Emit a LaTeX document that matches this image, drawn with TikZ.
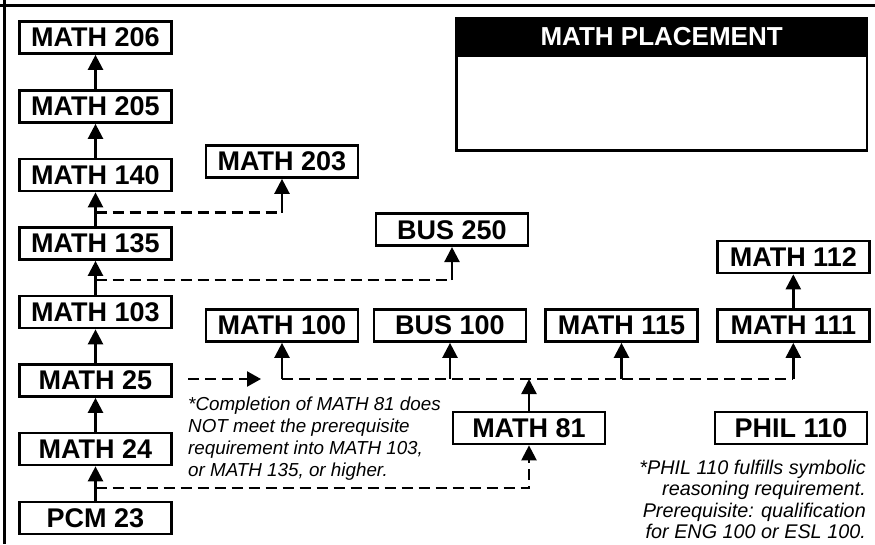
\documentclass[tikz,border=0pt]{standalone}
\usepackage{fontspec}
\setmainfont{Liberation Sans}
\usetikzlibrary{arrows.meta}
\begin{document}
\begin{tikzpicture}[x=1pt,y=-1pt,
  course/.style={draw, line width=2.7pt, minimum width=152pt, minimum height=32pt, inner sep=0pt, font=\fontsize{27}{29}\selectfont\bfseries},
  up/.style={line width=2.4pt, -{Triangle[width=15pt,length=15pt]}},
  dsh/.style={line width=2.3pt, dash pattern=on 11pt off 6pt},
  noteL/.style={inner sep=0pt, font=\fontsize{18.8}{22.3}\selectfont\itshape},
  noteR/.style={inner sep=0pt, font=\fontsize{19.8}{21.6}\selectfont\itshape}]
\useasboundingbox (0,0) rectangle (875,544);
% frame
\draw[line width=3pt] (0,5.5) -- (875,5.5);
\draw[line width=3pt] (4.5,0) -- (4.5,544);
% left column
\node[course] (m206) at (95.5,37.5) {MATH 206};
\node[course] (m205) at (95.5,106.5) {MATH 205};
\node[course] (m140) at (95.5,175) {MATH 140};
\node[course] (m135) at (95.5,243.5) {MATH 135};
\node[course] (m103) at (95.5,312) {MATH 103};
\node[course] (m25) at (95.5,380.5) {MATH 25};
\node[course] (m24) at (95.5,449) {MATH 24};
\node[course] (pcm23) at (95.5,518) {PCM 23};
% others
\node[course] (m203) at (282,161.5) {MATH 203};
\node[course] (bus250) at (452,229.7) {BUS 250};
\node[course] (m100) at (282,325.5) {MATH 100};
\node[course] (bus100) at (450,325.5) {BUS 100};
\node[course] (m115) at (621.5,325.5) {MATH 115};
\node[course] (m111) at (793.3,325.5) {MATH 111};
\node[course] (m112) at (793.3,257) {MATH 112};
\node[course] (m81) at (529,428) {MATH 81};
\node[course] (phil) at (791,428) {PHIL 110};
% placement box
\node[draw, line width=2.7pt, minimum width=410.6pt, minimum height=132.3pt, inner sep=0pt] (plc) at (661.65,84.2) {};
\node[fill=black, minimum width=413.3pt, minimum height=40pt, inner sep=0pt, outer sep=0pt, anchor=north, text=white, font=\fontsize{26}{28}\selectfont\bfseries] (plchead) at (plc.north) {MATH PLACEMENT};
% solid vertical chain
\draw[up] (pcm23.north) -- (m24.south);
\draw[up] (m24.north) -- (m25.south);
\draw[up] (m25.north) -- (m103.south);
\draw[up] (m103.north) -- (m135.south);
\draw[up] (m135.north) -- (m140.south);
\draw[up] (m140.north) -- (m205.south);
\draw[up] (m205.north) -- (m206.south);
\draw[up] (m111.north) -- (m112.south);
% dashed branches
\coordinate (j1) at (95.5,212.5);
\draw[dsh] (j1) -- (j1 -| m203.south);
\draw[up] (j1 -| m203.south) -- (m203.south);
\coordinate (j2) at (95.5,280);
\draw[dsh] (j2) -- (j2 -| bus250.south);
\draw[up] (j2 -| bus250.south) -- (bus250.south);
% row line
\coordinate (rowy) at (0,379);
\draw[dsh] (m100.south |- rowy) -- (m111.south |- rowy);
\draw[up] (m100.south |- rowy) -- (m100.south);
\draw[up] (bus100.south |- rowy) -- (bus100.south);
\draw[up] (m115.south |- rowy) -- (m115.south);
\draw[up] (m111.south |- rowy) -- (m111.south);
\draw[up] (m81.north) -- (m81.north |- rowy);
% MATH 25 dashed arrow
\coordinate (a1) at (188,379);
\coordinate (a2) at (261,379);
\draw[dsh, -{Triangle[width=15pt,length=14pt]}] (a1) -- (a2);
% bottom dashed to MATH 81
\coordinate (b1) at (95.5,488);
\draw[dsh, -{Triangle[width=15pt,length=15pt]}] (b1) -| (m81.south);
% notes
\node[noteL, align=left, anchor=north west] (note1) at (188,396.2) {*Completion of MATH 81 does\\NOT meet the prerequisite\\requirement into MATH 103,\\or MATH 135, or higher.};
\node[noteR, align=right, anchor=north east] (note2) at (866,459.5) {*PHIL 110 fulfills symbolic\\reasoning requirement.\\Prerequisite: qualification\\for ENG 100 or ESL 100.};
\end{tikzpicture}
\end{document}
